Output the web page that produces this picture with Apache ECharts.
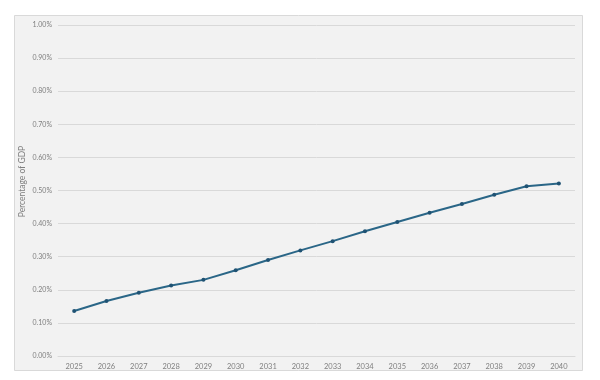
<!DOCTYPE html>
<html>
<head>
<meta charset="utf-8">
<script src="https://cdn.jsdelivr.net/npm/echarts@6/dist/echarts.min.js"></script>
<style>html,body{margin:0;padding:0;background:#fff;}#c{width:600px;height:380px;}</style>
</head>
<body>
<div id="c"></div>
<script>
const years = ['2025','2026','2027','2028','2029','2030','2031','2032','2033','2034','2035','2036','2037','2038','2039','2040'];
const values = [0.136, 0.166, 0.191, 0.213, 0.230, 0.259, 0.290, 0.319, 0.347, 0.377, 0.405, 0.433, 0.459, 0.487, 0.513, 0.521];
const yTicks = { min: 0, max: 1, interval: 0.1 };
const yName = 'Percentage of GDP';

const chart = echarts.init(document.getElementById('c'), null, { renderer: 'canvas' });
const font = 'Lato, "Open Sans", sans-serif';
chart.setOption({
  backgroundColor: '#ffffff',
  animation: false,
  graphic: [{
    type: 'rect', z: -10, silent: true,
    shape: { x: 14.5, y: 15.5, width: 568, height: 355 },
    style: { fill: '#f2f2f2', stroke: '#d9d9d9', lineWidth: 1 }
  }],
  grid: { left: 58, right: 25, top: 25, bottom: 24, containLabel: false },
  xAxis: {
    type: 'category',
    data: years,
    boundaryGap: true,
    axisLine: { show: true, lineStyle: { color: '#d9d9d9' } },
    axisTick: { show: false },
    axisLabel: { color: '#7f7f7f', fontSize: 7.5, fontFamily: font, margin: 7 }
  },
  yAxis: {
    type: 'value',
    min: yTicks.min, max: yTicks.max, interval: yTicks.interval,
    name: yName,
    nameLocation: 'middle',
    nameGap: 31,
    nameMoveOverlap: false,
    nameRotate: 90,
    nameTextStyle: { color: '#7f7f7f', fontSize: 8.5, fontFamily: font, padding: [0, 0, 0, 18] },
    axisLine: { show: false },
    axisTick: { show: false },
    splitLine: { lineStyle: { color: '#d9d9d9', width: 1 } },
    axisLabel: {
      color: '#7f7f7f', fontSize: 7, fontFamily: font, margin: 6,
      formatter: v => v.toFixed(2) + '%'
    }
  },
  series: [{
    type: 'line',
    data: values,
    symbol: 'circle',
    symbolSize: 4,
    smooth: false,
    lineStyle: { color: '#2a6687', width: 2 },
    itemStyle: { color: '#1f5273' }
  }]
});
</script>
</body>
</html>
